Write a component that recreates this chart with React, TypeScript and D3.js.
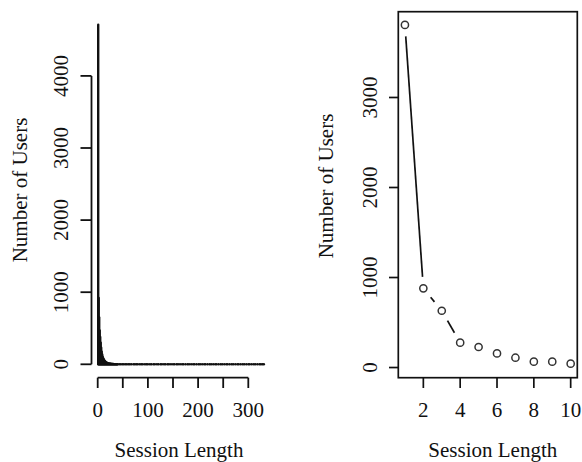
import React, { Component } from 'react';
import * as d3 from "d3";

// left panel: full distribution (session length -> users), type "h" spikes
const leftLengths = [
  1, 2, 3, 4, 5, 6, 7, 8, 9, 10, 11, 12, 13, 14, 15, 16, 17, 18, 19, 20,
  21, 22, 23, 24, 25, 26, 27, 28, 29, 30, 31, 32, 33, 34, 35, 36, 37, 38, 39, 40,
  43, 46, 49, 52, 55, 58, 61, 64, 67, 71, 74, 77, 80, 84, 87, 90, 94, 97, 100,
  104, 107, 111, 114, 118, 121, 125, 128, 132, 135, 139, 142, 146, 150, 153, 157,
  160, 164, 168, 171, 175, 179, 182, 186, 190, 193, 197, 201, 204, 208, 212, 215,
  219, 223, 226, 230, 234, 237, 241, 245, 248, 252, 256, 259, 263, 267, 270, 274,
  278, 281, 285, 289, 292, 296, 300, 303, 307, 311, 314, 318, 322, 325, 328, 331
];
const leftCounts = [
  4710, 920, 650, 470, 380, 300, 230, 175, 135, 105, 85, 70, 58, 48, 40, 33, 27, 22, 18, 15,
  13, 11, 10, 9, 8, 7, 6, 5, 5, 4, 4, 3, 3, 3, 3, 2, 2, 2, 2, 2,
  2, 2, 1, 2, 1, 2, 1, 1, 2, 1, 1, 1, 1, 2, 1, 1, 1, 1, 1,
  1, 1, 1, 2, 1, 1, 1, 1, 1, 1, 1, 1, 1, 1, 1, 1,
  1, 1, 1, 1, 1, 1, 1, 1, 1, 1, 1, 1, 1, 1, 1, 1,
  1, 1, 1, 1, 1, 1, 1, 1, 1, 1, 1, 1, 1, 1, 1, 1,
  1, 1, 1, 1, 1, 1, 1, 1, 1, 1, 1, 1, 1, 1, 1, 1
];
const leftXTicks = [0, 50, 100, 150, 200, 250, 300];
const leftXLabels = [0, 100, 200, 300];
const leftYTicks = [0, 1000, 2000, 3000, 4000];

// right panel: first ten session lengths, type "b"
const rightLengths = [1, 2, 3, 4, 5, 6, 7, 8, 9, 10];
const rightCounts = [3806, 880, 631, 276, 228, 157, 109, 65, 65, 43];
const rightXTicks = [2, 4, 6, 8, 10];
const rightYTicks = [0, 1000, 2000, 3000];

const FONT = "Liberation Serif, Tinos, DejaVu Serif, Times New Roman, serif";
const INK = "#111";

class App extends Component {
  svgRef = React.createRef<SVGSVGElement>();

  componentDidMount() {
    this.draw();
  }

  draw() {
    const svg = d3.select(this.svgRef.current);
    svg.selectAll("*").remove();

    const txt = (g, x, y, s, rot = false) =>
      g.append("text")
        .attr("text-anchor", "middle")
        .attr("transform", rot ? `translate(${x},${y}) rotate(-90)` : `translate(${x},${y})`)
        .attr("font-family", FONT)
        .attr("font-size", 21)
        .attr("fill", INK)
        .text(s);

    // ---------- left panel ----------
    const xL = d3.scaleLinear().domain([0, 300]).range([97.7, 248.3]);
    const yL = d3.scaleLinear().domain([0, 4000]).range([364.3, 75.9]);
    const left = svg.append("g");

    left.selectAll(".spike").data(leftLengths).join("line").attr("class", "spike")
      .attr("x1", d => xL(d)).attr("x2", d => xL(d))
      .attr("y1", yL(0)).attr("y2", (d, i) => yL(leftCounts[i]))
      .attr("stroke", INK).attr("stroke-width", 2.4).attr("stroke-linecap", "round");

    // y axis
    left.append("line").attr("x1", 91.5).attr("x2", 91.5)
      .attr("y1", yL(0)).attr("y2", yL(4000)).attr("stroke", INK).attr("stroke-width", 1.8);
    left.selectAll(".ytick").data(leftYTicks).join("line").attr("class", "ytick")
      .attr("x1", 91.5).attr("x2", 80.5).attr("y1", d => yL(d)).attr("y2", d => yL(d))
      .attr("stroke", INK).attr("stroke-width", 1.8);
    leftYTicks.forEach(d => txt(left, 68, yL(d), String(d), true));

    // x axis
    left.append("line").attr("x1", xL(0)).attr("x2", xL(300))
      .attr("y1", 377.7).attr("y2", 377.7).attr("stroke", INK).attr("stroke-width", 1.8);
    left.selectAll(".xtick").data(leftXTicks).join("line").attr("class", "xtick")
      .attr("x1", d => xL(d)).attr("x2", d => xL(d)).attr("y1", 377.7).attr("y2", 388)
      .attr("stroke", INK).attr("stroke-width", 1.8);
    leftXLabels.forEach(d => txt(left, xL(d), 417, String(d)));

    txt(left, 179, 457, "Session Length");
    txt(left, 27, 190, "Number of Users", true);

    // ---------- right panel ----------
    const xR = d3.scaleLinear().domain([0.64, 10.36]).range([398.3, 577.3]);
    const yR = d3.scaleLinear().domain([-113, 3953]).range([377.7, 11.7]);
    const right = svg.append("g");

    right.append("rect").attr("x", 398.3).attr("y", 11.7)
      .attr("width", 179).attr("height", 366)
      .attr("fill", "none").attr("stroke", INK).attr("stroke-width", 1.7);

    right.selectAll(".ytick").data(rightYTicks).join("line").attr("class", "ytick")
      .attr("x1", 398.3).attr("x2", 389).attr("y1", d => yR(d)).attr("y2", d => yR(d))
      .attr("stroke", INK).attr("stroke-width", 1.7);
    rightYTicks.forEach(d => txt(right, 377, yR(d), String(d), true));

    right.selectAll(".xtick").data(rightXTicks).join("line").attr("class", "xtick")
      .attr("x1", d => xR(d)).attr("x2", d => xR(d)).attr("y1", 377.7).attr("y2", 388)
      .attr("stroke", INK).attr("stroke-width", 1.7);
    rightXTicks.forEach(d => txt(right, xR(d), 417, String(d)));

    // segments with gaps round the points (R type = "b")
    const pts = rightLengths.map((d, i) => [xR(d), yR(rightCounts[i])]);
    const gap = 11.5;
    const segs = d3.pairs(pts).map(([a, b]) => {
      const dx = b[0] - a[0], dy = b[1] - a[1];
      const len = Math.hypot(dx, dy);
      if (len <= 2 * gap) return null;
      const ux = dx / len, uy = dy / len;
      return [a[0] + ux * gap, a[1] + uy * gap, b[0] - ux * gap, b[1] - uy * gap];
    }).filter(s => s);
    right.selectAll(".seg").data(segs).join("line").attr("class", "seg")
      .attr("x1", s => s[0]).attr("y1", s => s[1]).attr("x2", s => s[2]).attr("y2", s => s[3])
      .attr("stroke", INK).attr("stroke-width", 1.7);

    right.selectAll("circle").data(pts).join("circle")
      .attr("cx", p => p[0]).attr("cy", p => p[1]).attr("r", 3.6)
      .attr("fill", "white").attr("stroke", "#333").attr("stroke-width", 1.5);

    txt(right, 492.8, 457, "Session Length");
    txt(right, 333, 186, "Number of Users", true);
  }

  render() {
    return (
      <svg ref={this.svgRef} width={582} height={462}
        style={{ position: "absolute", left: 0, top: 0, background: "white" }} />
    );
  }
}

export default App;
